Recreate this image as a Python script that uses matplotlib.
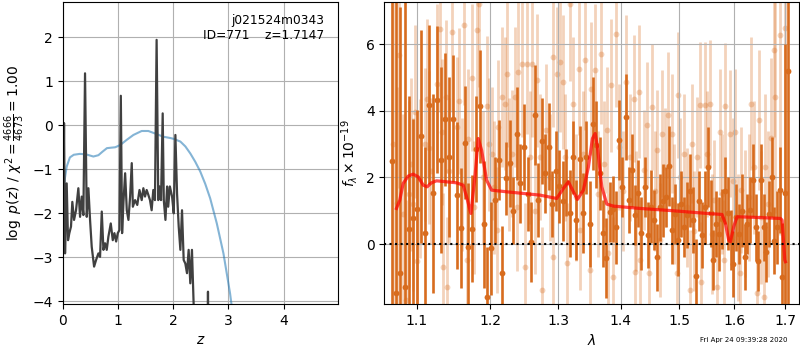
import matplotlib
matplotlib.use('Agg')
import matplotlib.pyplot as plt
from matplotlib.ticker import FixedLocator, FormatStrFormatter, NullLocator

# ---------------- left panel: p(z) ----------------
z_grid = [0.0, 0.024, 0.042, 0.072, 0.096, 0.12, 0.15, 0.174, 0.205, 0.241,
          0.283, 0.314, 0.344, 0.374, 0.404, 0.435, 0.465, 0.495, 0.525, 0.568,
          0.604, 0.646, 0.676, 0.707, 0.737, 0.767, 0.797, 0.827, 0.870, 0.906,
          0.936, 0.967, 0.997, 1.027, 1.052, 1.075, 1.10, 1.13, 1.16, 1.19,
          1.22, 1.25, 1.27, 1.31, 1.35, 1.39, 1.43, 1.46, 1.49, 1.52,
          1.55, 1.58, 1.61, 1.64, 1.67, 1.70, 1.73, 1.75, 1.78, 1.81,
          1.83, 1.86, 1.89, 1.91, 1.94, 1.98, 2.01, 2.04, 2.07, 2.10,
          2.13, 2.16, 2.19, 2.22, 2.25, 2.28, 2.31, 2.34, 2.37, 2.45,
          2.55, 2.61, 2.63, 2.65, 2.75, 3.0, 4.0, 5.0]
log_pz = [-3.36, 0.05, -2.91, -1.32, -2.61, -2.45, -2.3, -1.74, -2.15, -1.93,
          -1.43, -2.08, -1.62, -2.04, 1.18, -2.08, -1.43, -2.15, -2.76, -3.21,
          -3.06, -2.91, -2.99, -1.96, -2.83, -2.68, -2.83, -2.53, -2.23, -2.61,
          -2.45, -2.64, -2.45, -2.38, 0.67, -2.45, -1.74, -1.09, -1.93, -2.15,
          -1.62, -0.86, -1.85, -1.70, -1.81, -1.47, -1.70, -1.43, -1.62, -1.47,
          -1.58, -1.70, -1.93, -1.47, -1.70, 1.94, -1.70, -1.39, -1.70, 0.27,
          -1.70, -2.15, -1.39, -1.85, -1.39, -1.62, -2.00, -0.22, -1.55, -2.30,
          -2.83, -1.93, -3.06, -3.14, -3.36, -2.83, -3.59, -2.83, -4.05, -6.0,
          -6.0, -6.0, -3.78, -6.0, -8.0, -10.0, -15.0, -20.0]

z_prior = [0.0, 0.01, 0.04, 0.072, 0.13, 0.2, 0.31, 0.42, 0.555, 0.646,
           0.72, 0.80, 0.87, 0.95, 1.04, 1.16, 1.28, 1.43, 1.55, 1.70,
           1.82, 1.95, 2.01, 2.13, 2.22, 2.31, 2.40, 2.49, 2.58, 2.67,
           2.79, 2.91, 3.03, 3.10, 3.3]
log_prior = [-1.75, -1.55, -1.2, -0.94, -0.73, -0.67, -0.65, -0.66, -0.71, -0.68,
             -0.60, -0.52, -0.51, -0.50, -0.45, -0.33, -0.22, -0.13, -0.13, -0.20,
             -0.26, -0.29, -0.31, -0.37, -0.48, -0.64, -0.83, -1.05, -1.33, -1.66,
             -2.23, -2.91, -3.82, -4.5, -6.0]

label_text = 'j021524m0343\nID=771    z=1.7147'
timestamp = 'Fri Apr 24 09:39:28 2020'

# ---------------- right panel: spectrum ----------------
wave_dark = [1.0687, 1.0740, 1.0793, 1.0846, 1.0899, 1.0952, 1.1005, 1.1058, 1.1111, 1.1164,
             1.1217, 1.1270, 1.1323, 1.1376, 1.1429, 1.1482, 1.1535, 1.1588, 1.1641, 1.1694,
             1.1747, 1.1800, 1.1853, 1.1906, 1.1959, 1.2012, 1.2065, 1.2118, 1.2171, 1.2224,
             1.2277, 1.2330, 1.2383, 1.2436, 1.2489, 1.2542, 1.2595, 1.2648, 1.2701, 1.2754,
             1.2807, 1.2860, 1.2913, 1.2966, 1.3019, 1.3072, 1.3125, 1.3178, 1.3231, 1.3284,
             1.3337, 1.3390, 1.3443, 1.3496, 1.3549, 1.3602, 1.3655, 1.3708, 1.3761, 1.3814,
             1.3867, 1.3920, 1.3973, 1.4026, 1.4079, 1.4132, 1.4185, 1.4238, 1.4291, 1.4344,
             1.4397, 1.4450, 1.4503, 1.4556, 1.4609, 1.4662, 1.4715, 1.4768, 1.4821, 1.4874,
             1.4927, 1.4980, 1.5033, 1.5086, 1.5139, 1.5192, 1.5245, 1.5298, 1.5351, 1.5404,
             1.5457, 1.5510, 1.5563, 1.5616, 1.5669, 1.5722, 1.5775, 1.5828, 1.5881, 1.5934,
             1.5987, 1.6040, 1.6093, 1.6146, 1.6199, 1.6252, 1.6305, 1.6358, 1.6411, 1.6464,
             1.6517, 1.6570, 1.6623, 1.6676, 1.6729, 1.6782, 1.6835, 1.6888, 1.6941, 1.6994,
             1.7047]
flux_dark = [2.5, -1.48, -0.88, -1.29, 0.44, 0.77, 1.04, 3.24, 0.32, 4.19,
             1.52, 4.34, 2.52, 3.75, 2.61, 3.77, 1.46, 0.49, 3.04, -0.08,
             0.46, 2.86, 4.14, 0.59, -1.6, -0.13, 1.32, 2.52, -0.86, 1.97,
             2.42, 1.0, 3.32, 1.82, 2.92, 1.5, 0.06, 3.87, 1.32, 3.1,
             2.12, 2.93, 1.2, 2.2, 1.73, 1.3, 1.85, 0.92, 2.61, 0.72,
             2.54, 0.92, 2.61, 0.6, 3.62, 2.99, 2.12, 0.32, -0.43, 0.97,
             1.05, 0.5, 3.12, 1.7, 3.82, 1.32, 2.22, 0.87, 1.52, 0.32,
             1.72, 0.27, 1.12, 0.72, -0.4, 1.1, 1.3, 1.42, 2.35, 0.41,
             0.9, 0.13, 1.2, 0.5, 0.87, 1.6, 0.72, -0.95, 1.3, 0.27,
             1.1, 2.32, 0.92, -0.47, 0.6, 0.3, 0.75, 1.6, 0.92, 0.12,
             -0.6, 0.8, 0.3, 1.0, -0.39, 0.6, 1.02, 1.92, 0.5, -0.5,
             1.92, 0.5, -0.24, 0.9, 2.02, 0.1, 0.5, 1.62, -0.98, 1.52,
             5.19]
err_dark = [9.0, 9.0, 8.0, 9.0, 4.0, 3.0, 3.0, 3.2, 2.6, 2.4,
            3.0, 2.2, 2.8, 2.0, 2.4, 1.9, 2.2, 1.8, 1.7, 1.9,
            1.6, 1.6, 1.7, 1.9, 1.5, 1.4, 1.3, 1.2, 1.4, 1.1,
            1.3, 1.0, 1.4, 1.2, 1.3, 1.1, 1.2, 1.5, 1.1, 1.3,
            1.2, 1.3, 1.0, 1.2, 1.1, 1.2, 1.0, 1.3, 1.1, 1.2,
            1.0, 1.2, 1.1, 1.3, 1.4, 1.3, 1.1, 1.0, 1.2, 0.9,
            1.0, 1.1, 1.2, 0.9, 1.3, 1.0, 1.1, 0.9, 1.0, 1.1,
            0.9, 1.0, 1.1, 0.9, 1.0, 1.0, 1.1, 0.9, 1.2, 1.0,
            0.9, 1.1, 1.0, 0.9, 1.0, 1.1, 1.0, 1.1, 0.9, 1.0,
            1.1, 1.2, 1.0, 0.9, 1.0, 1.1, 0.9, 1.0, 1.1, 0.9,
            1.0, 1.0, 0.9, 1.1, 1.0, 0.9, 1.0, 1.1, 1.0, 0.9,
            1.1, 1.0, 0.9, 1.0, 1.2, 1.0, 1.1, 1.3, 1.6, 4.5,
            9.0]

wave_light = [1.0700, 1.0751, 1.0776, 1.0828, 1.0870, 1.0900, 1.0935, 1.0960, 1.0982, 1.1000,
              1.1043, 1.1108, 1.1139, 1.1160, 1.1196, 1.1263, 1.1307, 1.1330, 1.1352, 1.1388,
              1.1397, 1.1430, 1.1464, 1.1532, 1.1570, 1.1600, 1.1633, 1.1669, 1.1692, 1.1738,
              1.1770, 1.1808, 1.1845, 1.1901, 1.1948, 1.1980, 1.2019, 1.2060, 1.2090, 1.2110,
              1.2162, 1.2210, 1.2234, 1.2270, 1.2307, 1.2355, 1.2380, 1.2404, 1.2453, 1.2500,
              1.2527, 1.2570, 1.2601, 1.2650, 1.2676, 1.2726, 1.2751, 1.2816, 1.2870, 1.2918,
              1.2928, 1.2979, 1.3030, 1.3071, 1.3100, 1.3133, 1.3185, 1.3237, 1.3270, 1.3331,
              1.3342, 1.3380, 1.3421, 1.3500, 1.3511, 1.3586, 1.3620, 1.3677, 1.3720, 1.3769,
              1.3790, 1.3834, 1.3878, 1.3922, 1.3977, 1.4030, 1.4087, 1.4150, 1.4210, 1.4230,
              1.4260, 1.4294, 1.4322, 1.4379, 1.4436, 1.4464, 1.4521, 1.4570, 1.4608, 1.4665,
              1.4694, 1.4740, 1.4793, 1.4869, 1.4910, 1.4957, 1.4969, 1.5020, 1.5075, 1.5140,
              1.5194, 1.5224, 1.5270, 1.5315, 1.5375, 1.5395, 1.5466, 1.5500, 1.5546, 1.5590,
              1.5619, 1.5681, 1.5743, 1.5770, 1.5805, 1.5837, 1.5930, 1.5980, 1.6025, 1.6070,
              1.6120, 1.6140, 1.6215, 1.6280, 1.6331, 1.6390, 1.6440, 1.6473, 1.6520, 1.6570,
              1.6603, 1.6650, 1.6710, 1.6767, 1.6800, 1.6900, 1.7000]
flux_light = [3.0, 1.22, 5.67, 0.9, -1.68, 1.5, 2.4, 1.2, 3.97, -0.5,
              1.97, 3.0, 4.37, 2.9, 2.2, 4.82, 6.47, 3.37, -0.68, 4.42,
              -1.28, 2.2, 6.37, 3.52, 4.3, 1.8, 6.57, -0.48, 3.17, 5.0,
              1.1, 6.42, 7.22, 2.0, 4.14, 3.0, 2.72, 1.7, 0.42, 3.52,
              4.42, 4.22, 5.12, 2.4, 2.72, 4.42, 1.1, 5.17, 5.42, -0.68,
              5.42, 2.6, 5.42, 1.0, 4.92, 2.62, -1.38, 3.42, 2.0, 5.62,
              -0.38, 5.12, 5.47, 4.87, 2.6, -0.58, 7.2, 4.22, 1.4, 5.27,
              0.42, 2.7, 5.52, -0.78, 4.67, 5.22, 1.5, 5.72, 2.4, 3.42,
              -0.28, 4.77, -0.98, 6.32, 2.92, 1.6, 4.87, 2.6, 4.37, -0.83,
              1.0, 4.57, -0.48, 2.22, 3.57, -0.88, 4.12, 1.6, 2.82, 0.12,
              3.32, 2.3, 3.87, 3.32, 1.2, -0.88, 4.47, 2.0, 2.72, 1.1,
              -1.38, 3.02, 0.4, 2.62, 4.17, -1.13, 4.17, 2.7, 4.22, 0.3,
              1.32, -1.28, 3.37, 1.5, -0.48, 4.14, 3.32, 1.9, 3.37, 0.2,
              -0.88, 1.62, 0.92, 1.4, 4.22, 2.3, -1.48, 3.72, 0.8, -1.58,
              2.32, 1.2, 3.2, 5.82, 4.42, 6.27, 6.5]
err_light = [9.0, 3.5, 4.0, 3.0, 3.0, 2.8, 2.6, 2.6, 2.6, 2.5,
             2.4, 2.3, 2.4, 2.3, 2.2, 2.4, 2.5, 2.2, 2.2, 2.3,
             2.1, 2.2, 2.4, 2.1, 2.2, 2.0, 2.4, 2.0, 2.1, 2.2,
             2.0, 2.3, 2.5, 2.0, 2.1, 2.0, 2.0, 2.0, 1.9, 2.0,
             2.1, 2.0, 2.2, 2.0, 1.9, 2.1, 1.9, 2.2, 2.2, 1.9,
             2.1, 2.0, 2.2, 1.9, 2.0, 1.9, 1.9, 2.0, 1.9, 2.1,
             1.8, 2.0, 2.1, 2.0, 1.9, 1.8, 2.3, 2.0, 1.9, 2.0,
             1.8, 1.9, 2.1, 1.8, 2.0, 2.0, 1.9, 2.1, 1.9, 1.9,
             1.8, 2.0, 1.8, 2.2, 1.9, 1.8, 2.0, 1.9, 1.9, 1.8,
             1.8, 2.0, 1.8, 1.8, 1.9, 1.8, 1.9, 1.8, 1.8, 1.7,
             1.9, 1.8, 1.9, 1.8, 1.8, 1.8, 1.9, 1.8, 1.8, 1.8,
             1.8, 1.8, 1.8, 1.8, 1.9, 1.8, 1.9, 1.9, 1.9, 1.8,
             1.8, 1.8, 1.9, 1.8, 1.8, 1.9, 1.9, 1.9, 1.9, 1.9,
             1.9, 1.9, 1.9, 1.9, 2.0, 2.0, 2.0, 2.1, 2.0, 2.1,
             2.2, 2.2, 2.4, 2.6, 3.5, 6.0, 9.0]

model_wave = [1.0743, 1.0785, 1.0828, 1.0892, 1.0956, 1.1021, 1.1087, 1.1139, 1.1196, 1.1263,
              1.1397, 1.1532, 1.1623, 1.1669, 1.1729, 1.1785, 1.1831, 1.1878, 1.1948, 1.2019,
              1.2234, 1.2726, 1.2979, 1.3081, 1.3159, 1.3237, 1.3300, 1.3394, 1.3474, 1.3538,
              1.3581, 1.3618, 1.3688, 1.3769, 1.3878, 1.4322, 1.4898, 1.5497, 1.5774, 1.5837,
              1.5899, 1.5930, 1.5993, 1.6056, 1.6440, 1.6900, 1.6933, 1.6987, 1.7000]
model_flux = [1.07, 1.32, 1.82, 2.04, 2.10, 2.02, 1.77, 1.72, 1.84, 1.90,
              1.87, 1.84, 1.77, 1.42, 0.92, 2.02, 3.17, 2.82, 1.92, 1.62,
              1.57, 1.47, 1.37, 1.67, 1.87, 1.57, 1.34, 1.62, 2.32, 3.17,
              3.32, 2.92, 1.72, 1.20, 1.14, 1.07, 1.00, 0.92, 0.89, 0.62,
              0.12, 0.07, 0.52, 0.82, 0.80, 0.77, 0.72, -0.48, -0.53]

wave_ticks = [1.1, 1.2, 1.3, 1.4, 1.5, 1.6, 1.7]
flux_ticks = [0, 2, 4, 6]

ORANGE = '#d86c1e'

fig = plt.figure(figsize=(8, 3.5), dpi=100)

ax1 = fig.add_axes([0.0784, 0.1314, 0.3445, 0.8629])
ax1.plot(z_prior, log_prior, color='tab:blue', alpha=0.55, lw=1.5)
ax1.plot(z_grid, log_pz, color='#404040', lw=1.6)
ax1.set_xlim(0, 4.99)
ax1.set_ylim(-4.06, 2.80)
ax1.grid()
ax1.set_xlabel('$z$')
ax1.set_ylabel(r'$\log\ p(z)$' + ' / ' + r'$\chi^2=\frac{4666}{4673}=1.00$')
ax1.text(0.95, 0.96, label_text, ha='right', va='top',
         transform=ax1.transAxes, fontsize=8.8)

ax2 = fig.add_axes([0.4804, 0.1314, 0.5187, 0.8629])
ax2.set_xscale('log')
ax2.errorbar(wave_light, flux_light, yerr=err_light, fmt='o', color=ORANGE,
             alpha=0.3, ms=4.2, elinewidth=2.0, mew=0, zorder=1)
ax2.errorbar(wave_dark, flux_dark, yerr=err_dark, fmt='o', color=ORANGE,
             alpha=1.0, ms=4.2, elinewidth=1.9, mew=0, zorder=2)
ax2.plot(model_wave, model_flux, color='red', alpha=0.7, lw=2.3, zorder=3)
ax2.axhline(0, color='k', ls=':', lw=1.5, zorder=4)
ax2.set_xlim(1.059, 1.728)
ax2.set_ylim(-1.8, 7.27)
ax2.xaxis.set_major_locator(FixedLocator(wave_ticks))
ax2.xaxis.set_major_formatter(FormatStrFormatter('%.1f'))
ax2.xaxis.set_minor_locator(NullLocator())
ax2.set_yticks(flux_ticks)
ax2.grid()
ax2.set_xlabel(r'$\lambda$')
ax2.set_ylabel(r'$f_\lambda\times10^{-19}$')

fig.text(0.985, 0.02, timestamp, ha='right', va='bottom', fontsize=5)

fig.savefig('out.png', dpi=100)
